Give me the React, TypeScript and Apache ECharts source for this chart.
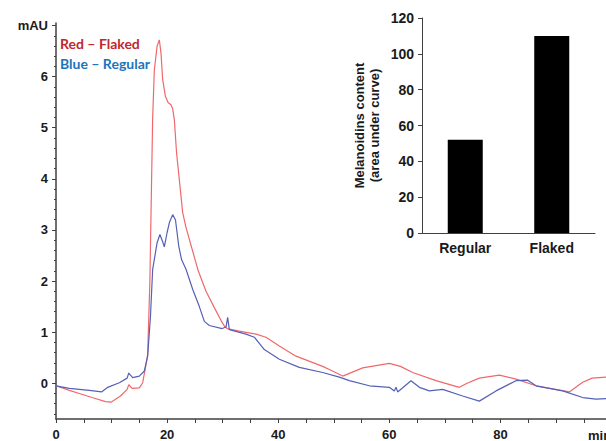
import React, { useEffect, useRef } from "react";
import * as echarts from "echarts";

const flakedTime = [0, 2.4, 4.2, 6.5, 8.9, 9.9, 11.6, 12.8, 13.1, 13.7, 15.0, 15.6, 16.1, 16.5, 16.9, 17.1, 17.4, 17.7, 18.2, 18.6, 18.9, 19.2, 19.7, 20.2, 20.7, 21.0, 21.3, 21.7, 22.2, 22.8, 23.4, 24.3, 25.6, 27.0, 28.5, 29.9, 30.3, 30.8, 33.0, 36.0, 37.8, 40.2, 43.2, 48.0, 49.2, 51.6, 55.2, 60.0, 62.0, 64.2, 68.4, 72.6, 74.0, 76.2, 79.8, 82.8, 86.4, 92.4, 94.8, 96.5, 99];
const flakedAbs = [-0.05, -0.14, -0.2, -0.28, -0.36, -0.37, -0.25, -0.12, -0.03, -0.1, -0.09, 0.01, 0.3, 0.56, 2.0, 3.3, 5.2, 6.13, 6.6, 6.72, 6.46, 5.94, 5.61, 5.49, 5.45, 5.37, 5.16, 4.51, 3.98, 3.34, 3.05, 2.7, 2.2, 1.8, 1.48, 1.19, 1.12, 1.07, 1.02, 0.96, 0.9, 0.73, 0.53, 0.33, 0.27, 0.14, 0.3, 0.39, 0.33, 0.21, 0.05, -0.08, 0.0, 0.1, 0.16, 0.08, -0.05, -0.17, 0.02, 0.1, 0.12];

const regularTime = [0, 2.4, 6.0, 8.2, 9.3, 11.4, 12.8, 13.1, 13.8, 15.0, 15.9, 16.5, 17.0, 17.4, 18.2, 18.7, 19.1, 19.5, 20.0, 20.4, 21.0, 21.5, 22.1, 22.6, 23.4, 24.6, 25.8, 26.7, 27.6, 29.9, 30.6, 30.9, 31.2, 34.2, 35.7, 37.5, 40.2, 43.8, 48.0, 51.0, 52.8, 56.4, 60.0, 60.9, 61.2, 61.5, 63.9, 65.4, 67.2, 69.6, 73.2, 76.2, 79.2, 82.8, 84.9, 86.4, 91.2, 94.8, 97.2, 99];
const regularAbs = [-0.05, -0.1, -0.14, -0.17, -0.08, 0.01, 0.1, 0.2, 0.11, 0.14, 0.24, 0.53, 1.3, 2.23, 2.75, 2.91, 2.8, 2.67, 2.95, 3.14, 3.3, 3.2, 2.68, 2.42, 2.23, 1.84, 1.5, 1.21, 1.13, 1.07, 1.1, 1.29, 1.05, 0.96, 0.9, 0.66, 0.47, 0.31, 0.21, 0.12, 0.05, -0.05, -0.08, -0.15, -0.08, -0.17, 0.05, -0.08, -0.15, -0.12, -0.25, -0.35, -0.15, 0.05, 0.06, -0.05, -0.15, -0.28, -0.31, -0.3];

const yMajorTicks = [0, 1, 2, 3, 4, 5, 6, 7];
const xLabelTicks = [0, 20, 40, 60, 80];

const barCategories = ["Regular", "Flaked"];
const barValues = [52, 110];

const axisColor = "#404040";
const textColor = "#1a1a1a";
const fontFamily = "'Liberation Sans', Arial, sans-serif";

export default function App() {
  const ref = useRef<HTMLDivElement>(null);
  useEffect(() => {
    if (!ref.current) return;
    const chart = echarts.init(ref.current, null, { renderer: "svg" });
    const minorTicks: number[] = [];
    for (let i = -3; i <= 35; i++) {
      if (i % 5 !== 0) minorTicks.push(Math.round(i * 0.2 * 10) / 10);
    }
    const option: any = {
      animation: false,
      backgroundColor: "#ffffff",
      grid: [
        { left: 56, top: 23, width: 550, height: 397 },
        { left: 422, top: 18, width: 173, height: 215 },
      ],
      xAxis: [
        {
          type: "value",
          gridIndex: 0,
          min: 0,
          max: 99,
          interval: 5,
          position: "bottom",
          axisLine: { onZero: false, lineStyle: { color: axisColor, width: 1.5 } },
          axisTick: { length: 4, lineStyle: { color: axisColor, width: 1 } },
          axisLabel: {
            customValues: xLabelTicks,
            color: textColor,
            fontWeight: "bold",
            fontSize: 13,
            fontFamily,
            margin: 9,
          },
          splitLine: { show: false },
        },
        {
          type: "category",
          gridIndex: 1,
          data: barCategories,
          axisLine: { onZero: false, lineStyle: { color: axisColor, width: 1 } },
          axisTick: { length: 4, lineStyle: { color: axisColor } },
          axisLabel: {
            color: textColor,
            fontWeight: "bold",
            fontSize: 14,
            fontFamily,
            margin: 8,
          },
        },
      ],
      yAxis: [
        {
          type: "value",
          gridIndex: 0,
          position: "left",
          min: -0.7,
          max: 7.05,
          axisLine: { show: true, onZero: false, lineStyle: { color: axisColor, width: 1.5 } },
          axisTick: {
            show: true,
            customValues: yMajorTicks,
            length: 4,
            lineStyle: { color: axisColor, width: 1 },
          },
          axisLabel: {
            customValues: yMajorTicks,
            formatter: (v: number) => (v === 7 ? "mAU" : String(v)),
            color: textColor,
            fontWeight: "bold",
            fontSize: 13,
            fontFamily,
            margin: 8,
          },
          splitLine: { show: false },
        },
        {
          type: "value",
          gridIndex: 0,
          position: "left",
          min: -0.7,
          max: 7.05,
          axisLine: { show: false, onZero: false },
          axisTick: {
            show: true,
            customValues: minorTicks,
            length: 2,
            lineStyle: { color: axisColor, width: 1 },
          },
          axisLabel: { show: false },
          splitLine: { show: false },
        },
        {
          type: "value",
          gridIndex: 1,
          position: "left",
          min: 0,
          max: 120,
          interval: 20,
          name: "Melanoidins content\n(area under curve)",
          nameLocation: "middle",
          nameRotate: 90,
          nameGap: 40,
          nameTextStyle: {
            color: textColor,
            fontWeight: "bold",
            fontSize: 13,
            fontFamily,
            lineHeight: 15,
          },
          axisLine: { show: true, onZero: false, lineStyle: { color: axisColor, width: 1 } },
          axisTick: { show: true, length: 4, lineStyle: { color: axisColor } },
          axisLabel: {
            color: textColor,
            fontWeight: "bold",
            fontSize: 14,
            fontFamily,
            margin: 8,
          },
          splitLine: { show: false },
        },
      ],
      series: [
        {
          type: "line",
          name: "Flaked",
          xAxisIndex: 0,
          yAxisIndex: 0,
          data: flakedTime.map((t, i) => [t, flakedAbs[i]]),
          showSymbol: false,
          symbol: "none",
          lineStyle: { color: "#f0686b", width: 1.2 },
          z: 2,
        },
        {
          type: "line",
          name: "Regular",
          xAxisIndex: 0,
          yAxisIndex: 0,
          data: regularTime.map((t, i) => [t, regularAbs[i]]),
          showSymbol: false,
          symbol: "none",
          lineStyle: { color: "#5560b6", width: 1.2 },
          z: 3,
        },
        {
          type: "bar",
          xAxisIndex: 1,
          yAxisIndex: 2,
          data: barValues,
          barWidth: 35,
          itemStyle: { color: "#000000" },
        },
      ],
      graphic: [
        {
          type: "text",
          left: 60,
          top: 36,
          style: {
            text: "Red \u2013 Flaked",
            fill: "#c1272d",
            font: "bold 14px Lato, 'Open Sans', sans-serif",
          },
        },
        {
          type: "text",
          left: 60,
          top: 56,
          style: {
            text: "Blue \u2013 Regular",
            fill: "#1b75bb",
            font: "bold 14px Lato, 'Open Sans', sans-serif",
          },
        },
        {
          type: "text",
          left: 588,
          top: 429,
          style: {
            text: "min",
            fill: textColor,
            font: "bold 13px 'Liberation Sans', Arial, sans-serif",
          },
        },
      ],
    };
    chart.setOption(option);
    return () => chart.dispose();
  }, []);
  return (
    <div
      ref={ref}
      style={{ position: "fixed", left: 0, top: 0, width: 606, height: 441, background: "#fff" }}
    />
  );
}
